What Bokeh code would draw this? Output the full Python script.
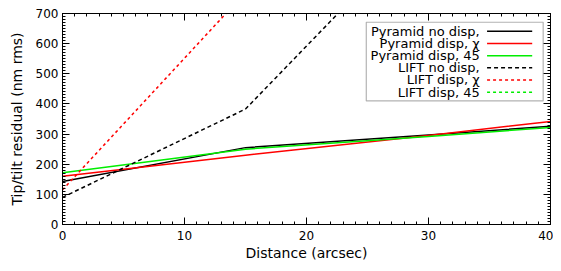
from bokeh.plotting import figure
from bokeh.models import Range1d, LinearAxis, BoxAnnotation, Label, Arrow, FixedTicker, CustomJSTickFormatter
from bokeh.embed import file_html
from bokeh.resources import INLINE

# Data (distance in arcsec, residual in nm rms)
dist = [0, 15, 30, 40]
pyr_nodisp = [143, 255, 297, 326]
pyr_dispx = [160, 230, 295, 342]
pyr_disp45 = [172, 250, 292, 322]
lift_dist = [0, 15, 30]
lift_nodisp = [90, 383, 1010]
lift_dispx = [115, 770, 1430]
lift_disp45_dist = []
lift_disp45 = []

legend_labels = ["Pyramid no disp,", "Pyramid disp, χ", "Pyramid disp, 45",
                 "LIFT no disp,", "LIFT disp, χ", "LIFT disp, 45"]
legend_colors = ["black", "#ff0000", "#00ee00", "black", "#ff0000", "#00ee00"]
legend_dash = ["solid", "solid", "solid", "4 3", "3 3", "3 3"]

x_ticks = [0, 10, 20, 30, 40]
y_ticks = [0, 100, 200, 300, 400, 500, 600, 700]

FONT = "DejaVu Sans"

p = figure(width=553, height=263, output_backend="svg", toolbar_location=None,
           x_range=Range1d(0, 40), y_range=Range1d(0, 700),
           min_border_left=62, min_border_right=3, min_border_top=13, min_border_bottom=34)
p.background_fill_color = "white"
p.border_fill_color = "white"
p.outline_line_color = "black"
p.outline_line_width = 1
p.xgrid.visible = False
p.ygrid.visible = False

def style_axis(ax, labels=True):
    ax.axis_line_color = "black"
    ax.major_tick_in = 7
    ax.major_tick_out = 0
    ax.minor_tick_in = 3
    ax.minor_tick_out = 0
    ax.major_tick_line_color = "black"
    ax.minor_tick_line_color = "black"
    ax.major_label_text_font = FONT
    ax.major_label_text_font_size = "12px"
    ax.major_label_text_color = "black"
    ax.axis_label_text_font = FONT
    ax.axis_label_text_font_size = "14px"
    ax.axis_label_text_font_style = "normal"
    ax.axis_label_text_color = "black"
    if not labels:
        ax.formatter = CustomJSTickFormatter(code="return '';")
        ax.major_label_standoff = 0

xt = FixedTicker(ticks=x_ticks, minor_ticks=list(range(0, 41)))
yt = FixedTicker(ticks=y_ticks, minor_ticks=list(range(0, 701, 10)))

p.xaxis.ticker = xt
p.yaxis.ticker = yt
p.xaxis.axis_label = "Distance (arcsec)"
p.yaxis.axis_label = "Tip/tilt residual (nm rms)"
style_axis(p.xaxis[0])
style_axis(p.yaxis[0])
p.xaxis.major_label_standoff = 6
p.yaxis.major_label_standoff = 4
p.xaxis.axis_label_standoff = 2
p.yaxis.axis_label_standoff = 8

top = LinearAxis(ticker=xt)
style_axis(top, labels=False)
p.add_layout(top, "above")
right = LinearAxis(ticker=yt)
style_axis(right, labels=False)
p.add_layout(right, "right")

p.line(dist, pyr_nodisp, line_color="black", line_width=1.5)
p.line(dist, pyr_dispx, line_color="#ff0000", line_width=1.5)
p.line(dist, pyr_disp45, line_color="#00ee00", line_width=1.5)
p.line(lift_dist, lift_nodisp, line_color="black", line_width=1.5, line_dash="4 3")
p.line(lift_dist, lift_dispx, line_color="#ff0000", line_width=1.5, line_dash="3 3")
p.line(lift_disp45_dist, lift_disp45, line_color="#00ee00", line_width=1.5, line_dash="3 3")

# Manual legend (IDL style: labels right-aligned, sample on the right)
box_l, box_r, box_t, box_b = 24.9, 39.4, 671, 410
p.add_layout(BoxAnnotation(left=box_l, right=box_r, top=box_t, bottom=box_b,
                           fill_color="white", fill_alpha=1.0,
                           line_color="black", line_width=1.2))
row_y0, row_dy = 641, 40.4
for i, (lab, col, dash) in enumerate(zip(legend_labels, legend_colors, legend_dash)):
    yy = row_y0 - i * row_dy
    p.add_layout(Label(x=34.2, y=yy, text=lab, text_align="right", text_baseline="middle",
                       text_font=FONT, text_font_size="13px", text_color="black"))
    p.add_layout(Arrow(end=None, x_start=34.8, y_start=yy, x_end=38.5, y_end=yy,
                       line_color=col, line_width=1.5, line_dash=dash))

open("out.html", "w").write(file_html(p, INLINE))
